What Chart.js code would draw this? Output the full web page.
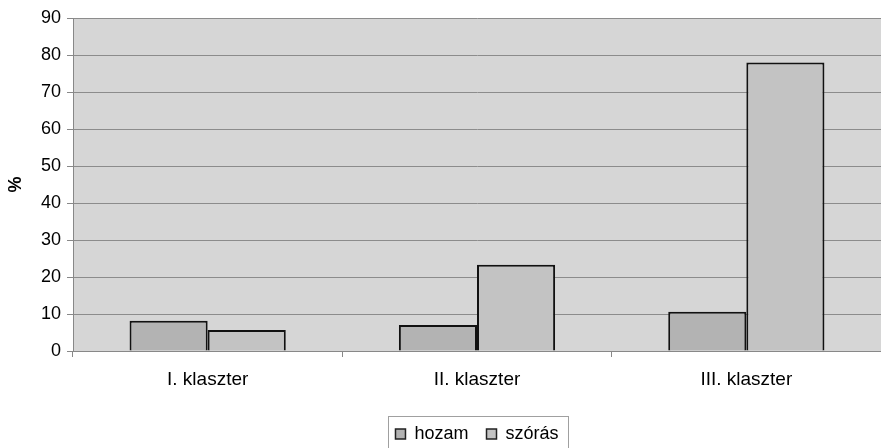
<!DOCTYPE html>
<html>
<head>
<meta charset="utf-8">
<script src="https://cdn.jsdelivr.net/npm/chart.js@4/dist/chart.umd.min.js"></script>
<style>
  html, body { margin: 0; padding: 0; background: #fff; }
  #wrap { width: 881px; height: 448px; }
</style>
</head>
<body>
<div id="wrap"><canvas id="chart" width="881" height="448"></canvas></div>
<script>
const categories = ["I. klaszter", "II. klaszter", "III. klaszter"];
const hozam = [8.2, 7.0, 10.6];
const szoras = [5.7, 23.3, 78.0];
const yTicks = { min: 0, max: 90, step: 10 };

const FONT = "Liberation Sans, Arial, sans-serif";

// plot background fill
const plotBg = {
  id: "plotBg",
  beforeDraw(chart) {
    const { ctx, chartArea: a } = chart;
    ctx.save();
    ctx.fillStyle = "#d6d6d6";
    ctx.fillRect(a.left, a.top, a.right - a.left, a.bottom - a.top);
    ctx.restore();
  },
};

// center legend under the plot area and draw a frame round it
const legendFrame = {
  id: "legendFrame",
  afterLayout(chart) {
    const lg = chart.legend;
    if (!lg) return;
    lg.left = chart.chartArea.left;
    lg.right = chart.chartArea.right;
    lg.top += 5;
    lg.bottom += 5;
  },
  afterDraw(chart) {
    const lg = chart.legend;
    if (!lg || !lg.legendHitBoxes.length) return;
    const boxes = lg.legendHitBoxes;
    const first = boxes[0];
    const last = boxes[boxes.length - 1];
    const { ctx } = chart;
    ctx.save();
    ctx.strokeStyle = "#a0a0a0";
    ctx.lineWidth = 1;
    const x1 = Math.round(first.left - 7) + 0.5;
    const x2 = Math.round(last.left + last.width + 9) + 0.5;
    const y1 = Math.round(first.top - 9) + 0.5;
    ctx.strokeRect(x1, y1, x2 - x1, 40);
    ctx.restore();
  },
};

new Chart(document.getElementById("chart").getContext("2d"), {
  type: "bar",
  data: {
    labels: categories,
    datasets: [
      {
        label: "hozam",
        data: hozam,
        backgroundColor: "#b3b3b3",
        borderColor: "#111",
        borderWidth: 2,
        borderSkipped: "bottom",
      },
      {
        label: "szórás",
        data: szoras,
        backgroundColor: "#c3c3c3",
        borderColor: "#111",
        borderWidth: 2,
        borderSkipped: "bottom",
      },
    ],
  },
  options: {
    responsive: false,
    animation: false,
    layout: { padding: { top: 18, right: 0, left: 0, bottom: 0 } },
    datasets: { bar: { categoryPercentage: 0.58, barPercentage: 1 } },
    plugins: {
      tooltip: { enabled: false },
      legend: {
        position: "bottom",
        labels: {
          color: "#000",
          font: { family: FONT, size: 18 },
          boxWidth: 10,
          boxHeight: 10,
          padding: 18,
          generateLabels(chart) {
            return chart.data.datasets.map((ds, i) => ({
              text: ds.label,
              fillStyle: ds.backgroundColor,
              strokeStyle: "#222",
              lineWidth: 1.5,
              datasetIndex: i,
              hidden: false,
            }));
          },
        },
      },
    },
    scales: {
      x: {
        grid: {
          offset: true,
          drawOnChartArea: false,
          drawTicks: true,
          tickLength: 6,
          color: "#888",
        },
        border: { color: "#888", width: 1 },
        ticks: {
          color: "#000",
          padding: 11,
          font: { family: FONT, size: 19 },
        },
        afterFit(scale) { scale.height = 51; },
      },
      y: {
        min: yTicks.min,
        max: yTicks.max,
        ticks: {
          stepSize: yTicks.step,
          color: "#000",
          padding: 6,
          font: { family: FONT, size: 18 },
        },
        grid: { color: "#8c8c8c", tickLength: 6, tickColor: "#888" },
        border: { color: "#888", width: 1 },
        title: {
          display: true,
          text: "%",
          color: "#000",
          font: { family: FONT, size: 18, weight: "bold" },
          padding: { top: 5, bottom: 0 },
        },
        afterFit(scale) { scale.width = 73; },
      },
    },
  },
  plugins: [plotBg, legendFrame],
});
</script>
</body>
</html>
